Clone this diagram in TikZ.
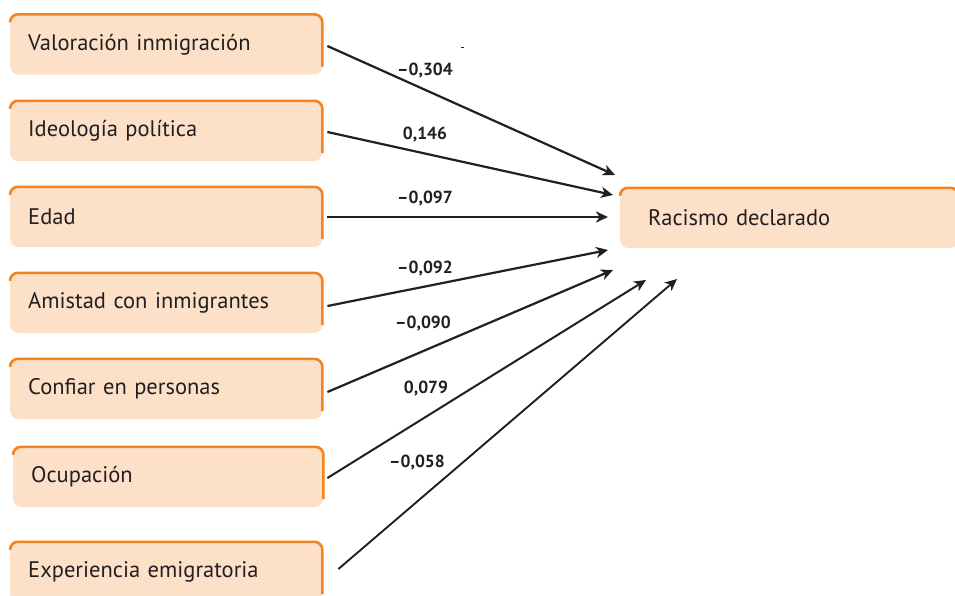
\documentclass[tikz,border=0pt]{standalone}
\usepackage{fontspec}
\setmainfont{PT Sans}
\usetikzlibrary{arrows.meta}
\definecolor{peach}{HTML}{FCE0C8}
\definecolor{edgeorange}{HTML}{F5821F}
\definecolor{ink}{HTML}{231F20}
\tikzset{
  varbox/.style={rectangle, rounded corners=8pt, fill=peach, minimum height=60pt,
    text width=#1, align=left, inner xsep=18pt, inner ysep=0pt,
    font=\fontsize{22.5}{25}\selectfont, text=ink, anchor=west},
  coef/.style={font=\fontsize{17.5}{19}\selectfont\bfseries, text=ink, inner sep=0pt},
  link/.style={draw=ink, line width=2.2pt, -{Stealth[length=12pt,width=11pt,inset=3.5pt]}},
  orangeedge/.style={draw=edgeorange, line width=2.6pt, rounded corners=8pt}
}
\newcommand{\orangeedges}[1]{%
  \draw[orangeedge] ([yshift=-8pt]#1.north west) -- (#1.north west) -- (#1.north east) -- ([yshift=8pt]#1.south east);}
\begin{document}
\begin{tikzpicture}[x=1pt,y=-1pt]
\useasboundingbox (0,0) rectangle (955,595);
\node[varbox=276pt] (b1) at (10,44.5) {Valoración inmigración};
\node[varbox=276pt] (b2) at (10,131) {Ideología política};
\node[varbox=276pt] (b3) at (10,217) {Edad};
\node[varbox=276pt] (b4) at (10,303) {Amistad con inmigrantes};
\node[varbox=276pt] (b5) at (10,389) {Confiar en personas};
\node[varbox=274pt] (b6) at (13,477) {Ocupación};
\node[varbox=276pt] (b7) at (10,572) {Experiencia emigratoria};
\node[varbox=282pt, inner xsep=28pt] (r) at (620,218) {Racismo declarado};
\foreach \n in {b1,b2,b3,b4,b5,b6,b7,r} {\orangeedges{\n}}

\coordinate (e1) at (615,175);
\coordinate (e2) at (613,195);
\coordinate (e3) at (608,217);
\coordinate (e4) at (608,250);
\coordinate (e5) at (613,270);
\coordinate (e6) at (646,280);
\coordinate (e7) at (677,279);

\draw[link] ([xshift=5pt,yshift=-1.5pt]b1.east) -- (e1);
\draw[link] ([xshift=5pt,yshift=-1pt]b2.east) -- (e2);
\draw[link] ([xshift=5pt]b3.east) -- (e3);
\draw[link] ([xshift=5pt,yshift=-3pt]b4.east) -- (e4);
\draw[link] ([xshift=5pt,yshift=-3pt]b5.east) -- (e5);
\draw[link, line width=2pt] ([xshift=4pt,yshift=-1pt]b6.east) -- (e6);
\draw[link, line width=1.9pt] ([xshift=16pt,yshift=3pt]b7.east) -- (e7);

\node[coef] (c1) at (425,71) {–0,304};
\node[coef] (c2) at (425,135) {0,146};
\node[coef] (c3) at (425,199) {–0,097};
\node[coef] (c4) at (425,269) {–0,092};
\node[coef] (c5) at (423,324) {–0,090};
\node[coef] (c6) at (426,389) {0,079};
\node[coef] (c7) at (417,463) {–0,058};

\coordinate (m1) at (461,47.5);
\coordinate (m2) at (464,47.5);
\draw[ink, line width=0.8pt] (m1) -- (m2);
\end{tikzpicture}
\end{document}
